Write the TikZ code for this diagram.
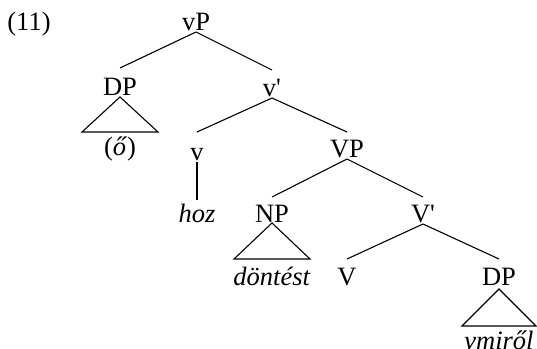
\documentclass[tikz,border=0pt]{standalone}
\usepackage{fontspec}
\setmainfont{Liberation Serif}
\begin{document}
\begin{tikzpicture}[x=1pt,y=-1pt,
  lab/.style={anchor=base, inner sep=0pt, font=\fontsize{26.5}{30}\selectfont},
  br/.style={line width=1.1pt},
  tri/.style={line width=1.1pt, line join=miter}]
\useasboundingbox (0,0) rectangle (537,348);
\node[lab] (n11) at (29,30) {(11)};
\node[lab] (vP) at (196,30) {vP};
\node[lab] (DPa) at (120,95) {DP};
\node[lab] (vbar) at (272,96) {v\textquotesingle};
\node[lab] (o) at (120,155) {(\textit{ő})};
\node[lab] (v) at (197,160) {v};
\node[lab] (hoz) at (197,222) {\textit{hoz}};
\node[lab] (VP) at (347,157) {VP};
\node[lab] (NP) at (272,222) {NP};
\node[lab] (Vbar) at (423,222) {V\textquotesingle};
\node[lab] (dontest) at (272,285) {\textit{döntést}};
\node[lab] (V) at (347,285) {V};
\node[lab] (DPb) at (499,285) {DP};
\node[lab] (vmirol) at (499,349) {\textit{vmiről}};
% branches
\draw[br] ([yshift=-2pt]vP.base) -- ([yshift=27pt]DPa.base);
\draw[br] ([yshift=-2pt]vP.base) -- ([yshift=26pt]vbar.base);
\draw[br] ([yshift=-2pt]vbar.base) -- ([yshift=28pt]v.base);
\draw[br] ([yshift=-2pt]vbar.base) -- ([yshift=25pt]VP.base);
\draw[br] ([yshift=-2pt]v.base) -- ([yshift=22pt]hoz.base);
\draw[br] ([yshift=-2pt]VP.base) -- ([yshift=25pt]NP.base);
\draw[br] ([yshift=-2pt]VP.base) -- ([yshift=25pt]Vbar.base);
\draw[br] ([yshift=-2pt]Vbar.base) -- ([yshift=26pt]V.base);
\draw[br] ([yshift=-2pt]Vbar.base) -- ([yshift=26pt]DPb.base);
% triangles
\draw[tri] ([yshift=-2pt]DPa.base) -- ++(-38,35) -- ++(76,0) -- cycle;
\draw[tri] ([yshift=-1pt]NP.base) -- ++(-38,36) -- ++(76,0) -- cycle;
\draw[tri] ([yshift=-4pt]DPb.base) -- ++(-37,37) -- ++(74,0) -- cycle;
\end{tikzpicture}
\end{document}
